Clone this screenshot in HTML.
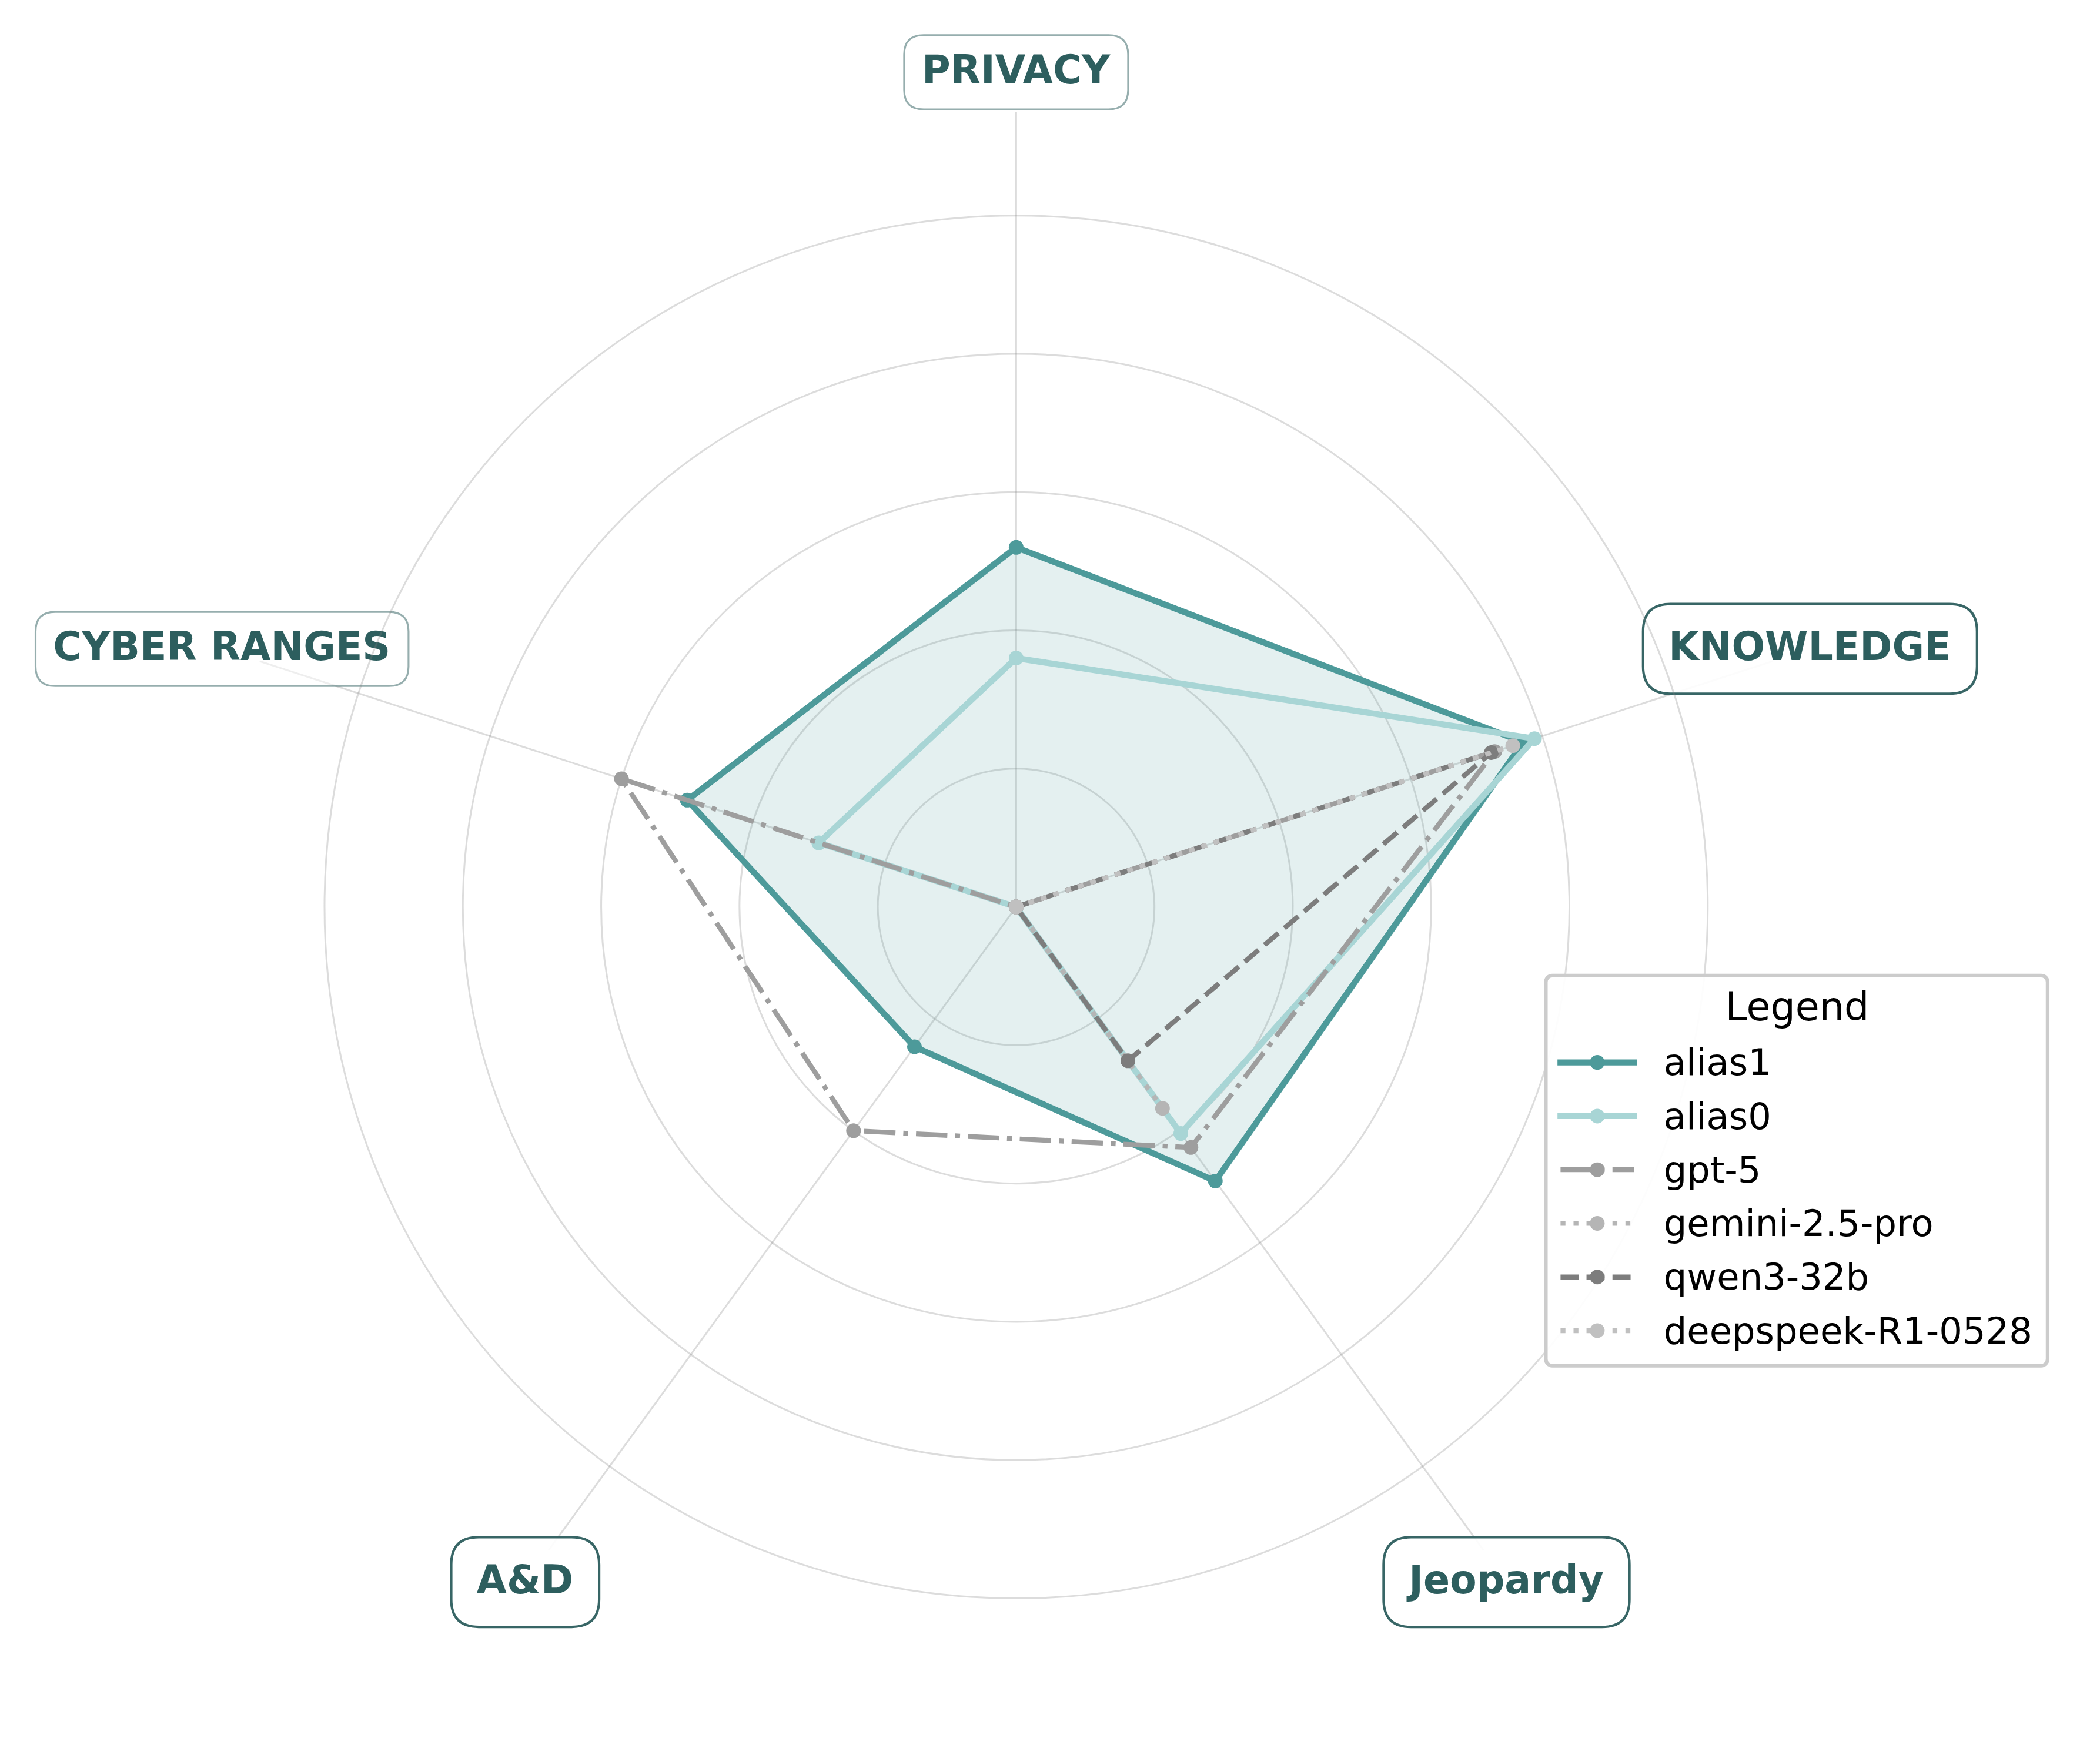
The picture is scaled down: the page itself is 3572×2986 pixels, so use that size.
<!DOCTYPE html><html><head><meta charset="utf-8"><title>Radar</title><style>html,body{margin:0;padding:0;background:#fff}svg{display:block}</style></head><body><svg width="3572" height="2986" viewBox="0 0 3572 2986">
<rect width="3572" height="2986" fill="#fff"/>
<g stroke="rgba(128,128,128,0.28)" stroke-width="3.0" fill="none">
<line x1="1728.4" y1="1543.1" x2="1728.4" y2="190.24"/>
<line x1="1728.4" y1="1543.1" x2="3015.05" y2="1125.04"/>
<line x1="1728.4" y1="1543.1" x2="2523.59" y2="2637.59"/>
<line x1="1728.4" y1="1543.1" x2="933.21" y2="2637.59"/>
<line x1="1728.4" y1="1543.1" x2="441.75" y2="1125.04"/>
</g>
<path d="M1571.2 59.8L1885.6 59.8Q1918.9 59.8 1918.9 93.1L1918.9 152.7Q1918.9 186 1885.6 186L1571.2 186Q1537.9 186 1537.9 152.7L1537.9 93.1Q1537.9 59.8 1571.2 59.8Z" fill="#fff" fill-opacity="0.5" stroke="#2d5e5e" stroke-opacity="0.5" stroke-width="3.1"/>
<text transform="translate(1728 142) scale(0.998 1.025)" x="0" y="0" text-anchor="middle" font-family="'DejaVu Sans','Liberation Sans',sans-serif" font-weight="bold" font-size="66.67" fill="#2d5e5e">PRIVACY</text>
<path d="M2841.5 1027.7L3316.1 1027.7Q3362.8 1027.7 3362.8 1074.4L3362.8 1133.6Q3362.8 1180.3 3316.1 1180.3L2841.5 1180.3Q2794.8 1180.3 2794.8 1133.6L2794.8 1074.4Q2794.8 1027.7 2841.5 1027.7Z" fill="#fff" fill-opacity="0.9" stroke="#2d5e5e" stroke-opacity="0.95" stroke-width="4.17"/>
<text transform="translate(3078.4 1123.1) scale(0.998 1.025)" x="0" y="0" text-anchor="middle" font-family="'DejaVu Sans','Liberation Sans',sans-serif" font-weight="bold" font-size="66.67" fill="#2d5e5e">KNOWLEDGE</text>
<path d="M2400.1 2615.35L2724.9 2615.35Q2771.6 2615.35 2771.6 2662.05L2771.6 2721.45Q2771.6 2768.15 2724.9 2768.15L2400.1 2768.15Q2353.4 2768.15 2353.4 2721.45L2353.4 2662.05Q2353.4 2615.35 2400.1 2615.35Z" fill="#fff" fill-opacity="0.9" stroke="#2d5e5e" stroke-opacity="0.95" stroke-width="4.17"/>
<text transform="translate(2562.1 2710.85) scale(0.998 1.025)" x="0" y="0" text-anchor="middle" font-family="'DejaVu Sans','Liberation Sans',sans-serif" font-weight="bold" font-size="66.67" fill="#2d5e5e">Jeopardy</text>
<path d="M814.2 2615.45L972.4 2615.45Q1019.1 2615.45 1019.1 2662.15L1019.1 2721.35Q1019.1 2768.05 972.4 2768.05L814.2 2768.05Q767.5 2768.05 767.5 2721.35L767.5 2662.15Q767.5 2615.45 814.2 2615.45Z" fill="#fff" fill-opacity="0.9" stroke="#2d5e5e" stroke-opacity="0.95" stroke-width="4.17"/>
<text transform="translate(892.9 2710.85) scale(0.998 1.025)" x="0" y="0" text-anchor="middle" font-family="'DejaVu Sans','Liberation Sans',sans-serif" font-weight="bold" font-size="66.67" fill="#2d5e5e">A&amp;D</text>
<path d="M93.8 1041.1L661.6 1041.1Q694.9 1041.1 694.9 1074.4L694.9 1134Q694.9 1167.3 661.6 1167.3L93.8 1167.3Q60.5 1167.3 60.5 1134L60.5 1074.4Q60.5 1041.1 93.8 1041.1Z" fill="#fff" fill-opacity="0.5" stroke="#2d5e5e" stroke-opacity="0.5" stroke-width="3.1"/>
<text transform="translate(377.3 1123.3) scale(0.998 1.025)" x="0" y="0" text-anchor="middle" font-family="'DejaVu Sans','Liberation Sans',sans-serif" font-weight="bold" font-size="66.67" fill="#2d5e5e">CYBER RANGES</text>
<g stroke="rgba(128,128,128,0.28)" stroke-width="3.0" fill="none">
<circle cx="1728.4" cy="1543.1" r="235.28"/>
<circle cx="1728.4" cy="1543.1" r="470.56"/>
<circle cx="1728.4" cy="1543.1" r="705.84"/>
<circle cx="1728.4" cy="1543.1" r="941.12"/>
<circle cx="1728.4" cy="1543.1" r="1176.4"/>
</g>
<polygon points="1728.4,931.37 2591.01,1262.82 2067.22,2009.45 1555.53,1781.03 1168.99,1361.34 1728.4,931.37" fill="#4d9a9a" fill-opacity="0.15"/>
<polyline points="1728.4,931.37 2591.01,1262.82 2067.22,2009.45 1555.53,1781.03 1168.99,1361.34 1728.4,931.37" fill="none" stroke="#4d9a9a" stroke-width="10.42" stroke-linejoin="miter" stroke-miterlimit="10"/>
<circle cx="1728.4" cy="931.37" r="12.5" fill="#4d9a9a"/>
<circle cx="2591.01" cy="1262.82" r="12.5" fill="#4d9a9a"/>
<circle cx="2067.22" cy="2009.45" r="12.5" fill="#4d9a9a"/>
<circle cx="1555.53" cy="1781.03" r="12.5" fill="#4d9a9a"/>
<circle cx="1168.99" cy="1361.34" r="12.5" fill="#4d9a9a"/>
<polyline points="1728.4,1119.6 2610.03,1256.64 2008.45,1928.55 1728.4,1543.1 1392.75,1434.04 1728.4,1119.6" fill="none" stroke="#a8d5d5" stroke-width="10.42" stroke-linejoin="miter" stroke-miterlimit="10"/>
<circle cx="1728.4" cy="1119.6" r="12.5" fill="#a8d5d5"/>
<circle cx="2610.03" cy="1256.64" r="12.5" fill="#a8d5d5"/>
<circle cx="2008.45" cy="1928.55" r="12.5" fill="#a8d5d5"/>
<circle cx="1728.4" cy="1543.1" r="12.5" fill="#a8d5d5"/>
<circle cx="1392.75" cy="1434.04" r="12.5" fill="#a8d5d5"/>
<polyline points="1728.4,1543.1 2542.34,1278.63 2025.73,1952.34 1451.81,1923.79 1057.11,1324.98 1728.4,1543.1" fill="none" stroke="#9e9e9e" stroke-width="8.33" stroke-linejoin="miter" stroke-miterlimit="10" stroke-dasharray="53.33 13.33 8.33 13.33"/>
<circle cx="1728.4" cy="1543.1" r="12.5" fill="#9e9e9e"/>
<circle cx="2542.34" cy="1278.63" r="12.5" fill="#9e9e9e"/>
<circle cx="2025.73" cy="1952.34" r="12.5" fill="#9e9e9e"/>
<circle cx="1451.81" cy="1923.79" r="12.5" fill="#9e9e9e"/>
<circle cx="1057.11" cy="1324.98" r="12.5" fill="#9e9e9e"/>
<polyline points="1728.4,1543.1 1728.4,1543.1 1977.33,1885.72 1728.4,1543.1 1728.4,1543.1 1728.4,1543.1" fill="none" stroke="#b5b5b5" stroke-width="8.33" stroke-linejoin="miter" stroke-miterlimit="10" stroke-dasharray="8.33 13.75"/>
<circle cx="1728.4" cy="1543.1" r="12.5" fill="#b5b5b5"/>
<circle cx="1728.4" cy="1543.1" r="12.5" fill="#b5b5b5"/>
<circle cx="1977.33" cy="1885.72" r="12.5" fill="#b5b5b5"/>
<circle cx="1728.4" cy="1543.1" r="12.5" fill="#b5b5b5"/>
<circle cx="1728.4" cy="1543.1" r="12.5" fill="#b5b5b5"/>
<polyline points="1728.4,1543.1 2536.64,1280.49 1918.55,1804.83 1728.4,1543.1 1728.4,1543.1 1728.4,1543.1" fill="none" stroke="#7d7d7d" stroke-width="8.33" stroke-linejoin="miter" stroke-miterlimit="10" stroke-dasharray="30.83 13.33"/>
<circle cx="1728.4" cy="1543.1" r="12.5" fill="#7d7d7d"/>
<circle cx="2536.64" cy="1280.49" r="12.5" fill="#7d7d7d"/>
<circle cx="1918.55" cy="1804.83" r="12.5" fill="#7d7d7d"/>
<circle cx="1728.4" cy="1543.1" r="12.5" fill="#7d7d7d"/>
<circle cx="1728.4" cy="1543.1" r="12.5" fill="#7d7d7d"/>
<polyline points="1728.4,1543.1 2573.11,1268.64 1728.4,1543.1 1728.4,1543.1 1728.4,1543.1 1728.4,1543.1" fill="none" stroke="#c0c0c0" stroke-width="8.33" stroke-linejoin="miter" stroke-miterlimit="10" stroke-dasharray="8.33 13.75"/>
<circle cx="1728.4" cy="1543.1" r="12.5" fill="#c0c0c0"/>
<circle cx="2573.11" cy="1268.64" r="12.5" fill="#c0c0c0"/>
<circle cx="1728.4" cy="1543.1" r="12.5" fill="#c0c0c0"/>
<circle cx="1728.4" cy="1543.1" r="12.5" fill="#c0c0c0"/>
<circle cx="1728.4" cy="1543.1" r="12.5" fill="#c0c0c0"/>
<rect x="2629.4" y="1659.8" width="853.5" height="663.8" rx="11" ry="11" fill="#fff" fill-opacity="0.92" stroke="#cccccc" stroke-width="6.25"/>
<text transform="translate(3056.95 1735.6) scale(1 1.02)" x="0" y="0" text-anchor="middle" font-family="'DejaVu Sans','Liberation Sans',sans-serif" font-size="66.67" fill="#000">Legend</text>
<line x1="2654.4" y1="1807.6" x2="2779.4" y2="1807.6" stroke="#4d9a9a" stroke-width="10.42" stroke-linecap="square"/>
<circle cx="2716.9" cy="1807.6" r="12.5" fill="#4d9a9a"/>
<text x="2829.8" y="1829.3" font-family="'DejaVu Sans','Liberation Sans',sans-serif" font-size="62.32" fill="#000">alias1</text>
<line x1="2654.4" y1="1898.88" x2="2779.4" y2="1898.88" stroke="#a8d5d5" stroke-width="10.42" stroke-linecap="square"/>
<circle cx="2716.9" cy="1898.88" r="12.5" fill="#a8d5d5"/>
<text x="2829.8" y="1920.58" font-family="'DejaVu Sans','Liberation Sans',sans-serif" font-size="62.32" fill="#000">alias0</text>
<line x1="2654.4" y1="1990.16" x2="2779.4" y2="1990.16" stroke="#9e9e9e" stroke-width="8.33" stroke-dasharray="53.33 13.33 8.33 13.33"/>
<circle cx="2716.9" cy="1990.16" r="12.5" fill="#9e9e9e"/>
<text x="2829.8" y="2011.86" font-family="'DejaVu Sans','Liberation Sans',sans-serif" font-size="62.32" fill="#000">gpt-5</text>
<line x1="2654.4" y1="2081.44" x2="2779.4" y2="2081.44" stroke="#b5b5b5" stroke-width="8.33" stroke-dasharray="8.33 13.75"/>
<circle cx="2716.9" cy="2081.44" r="12.5" fill="#b5b5b5"/>
<text x="2829.8" y="2103.14" font-family="'DejaVu Sans','Liberation Sans',sans-serif" font-size="62.32" fill="#000">gemini-2.5-pro</text>
<line x1="2654.4" y1="2172.72" x2="2779.4" y2="2172.72" stroke="#7d7d7d" stroke-width="8.33" stroke-dasharray="30.83 13.33"/>
<circle cx="2716.9" cy="2172.72" r="12.5" fill="#7d7d7d"/>
<text x="2829.8" y="2194.42" font-family="'DejaVu Sans','Liberation Sans',sans-serif" font-size="62.32" fill="#000">qwen3-32b</text>
<line x1="2654.4" y1="2264" x2="2779.4" y2="2264" stroke="#c0c0c0" stroke-width="8.33" stroke-dasharray="8.33 13.75"/>
<circle cx="2716.9" cy="2264" r="12.5" fill="#c0c0c0"/>
<text x="2829.8" y="2285.7" font-family="'DejaVu Sans','Liberation Sans',sans-serif" font-size="62.32" fill="#000">deepspeek-R1-0528</text>
</svg></body></html>
